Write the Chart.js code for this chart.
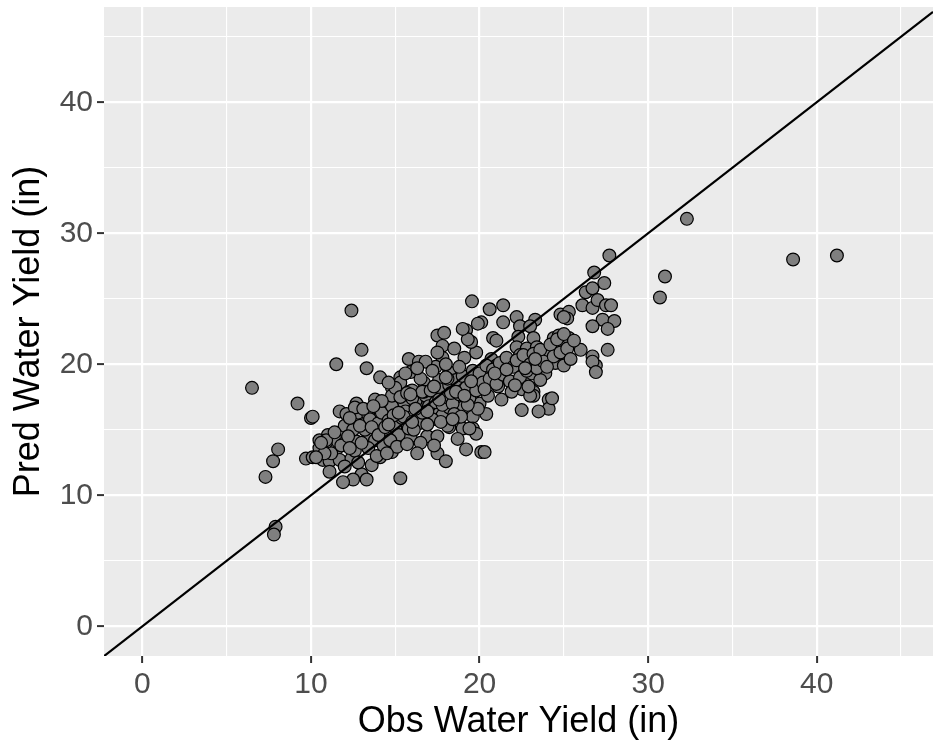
<!DOCTYPE html>
<html>
<head>
<meta charset="utf-8">
<title>Obs vs Pred Water Yield</title>
<script src="https://cdn.jsdelivr.net/npm/chart.js@4.4.1/dist/chart.umd.min.js"></script>
<style>
    html, body { margin: 0; padding: 0; background: #ffffff; }
    #wrap { width: 933px; height: 744px; position: relative; }
</style>
</head>
<body>
<div id="wrap"><canvas id="yield-chart"></canvas></div>
<script>
const obsYield = [
    6.5, 7.3, 7.75, 7.9, 7.8, 8.05, 9.2, 9.7, 10.0, 12.4,
    11.5, 13.0, 15.3, 19.55, 30.7, 31.0, 32.3, 38.6, 41.2, 27.7,
    26.8, 27.4, 26.3, 26.7, 26.1, 26.7, 27.0, 27.5, 27.8, 27.3,
    28.0, 26.7, 27.6, 27.6, 26.7, 26.9, 20.6, 21.4, 20.1, 21.4,
    22.2, 22.4, 23.3, 23.0, 24.8, 25.3, 25.2, 20.8, 21.0, 19.8,
    22.3, 23.2, 24.4, 24.7, 25.3, 26.0, 22.2, 22.8, 23.4, 23.9,
    24.6, 24.7, 21.5, 22.4, 21.8, 20.7, 21.0, 24.5, 26.7, 26.9,
    25.0, 21.0, 20.1, 21.2, 22.6, 23.1, 23.9, 23.6, 20.0, 21.1,
    22.5, 23.2, 23.2, 24.1, 24.1, 23.5, 22.5, 20.0, 20.4, 19.6,
    19.6, 19.8, 20.1, 20.3, 17.5, 18.0, 13.6, 13.0, 13.3, 12.5,
    14.8, 14.1, 12.7, 13.5, 14.9, 16.9, 17.5, 15.9, 18.2, 19.0,
    19.4, 12.8, 13.4, 14.1, 16.6, 17.2, 17.8, 18.1, 14.5, 15.0,
    15.5, 16.3, 18.2, 19.0, 19.9, 17.5, 17.9, 19.2, 19.9, 17.8,
    19.5, 13.3, 17.8, 19.1, 15.8, 16.4, 17.4, 14.1, 15.3, 15.9,
    16.7, 17.6, 18.2, 19.1, 14.8, 15.8, 12.7, 13.8, 10.1, 11.7,
    12.1, 12.6, 11.0, 10.5, 10.1, 10.7, 10.5, 11.1, 11.5, 11.1,
    11.9, 11.7, 12.4, 12.0, 12.5, 11.6, 12.0, 10.9, 13.2, 13.5,
    13.8, 14.0, 14.2, 14.4, 14.6, 14.8, 15.0, 15.2, 13.4, 13.9,
    14.3, 14.7, 15.1, 15.4, 15.6, 15.8, 16.0, 16.2, 16.4, 16.6,
    16.8, 17.0, 17.2, 17.4, 17.6, 17.8, 18.0, 18.2, 18.4, 18.6,
    18.8, 19.0, 19.2, 19.4, 19.6, 19.8, 20.0, 20.2, 20.4, 20.6,
    20.8, 21.0, 21.2, 21.4, 21.6, 21.8, 22.0, 22.2, 22.4, 22.6,
    22.8, 23.0, 23.2, 23.4, 23.6, 23.8, 24.0, 24.2, 24.4, 24.6,
    24.8, 25.0, 25.2, 25.4, 25.6, 25.0, 23.0, 24.3, 11.2, 11.8,
    12.2, 12.6, 12.9, 13.1, 12.3, 11.4, 10.8, 10.3, 10.6, 12.0,
    12.8, 15.3, 15.6, 16.0, 16.5, 16.8, 17.2, 17.5, 18.0, 18.5,
    18.8, 19.3, 19.0, 16.3, 14.8, 15.0, 14.2, 14.6, 15.5, 16.1,
    16.9, 17.7, 18.5, 18.9, 19.3, 20.5, 21.3, 21.9, 22.9, 13.6,
    14.5, 15.7, 16.5, 16.3, 16.7, 18.3, 18.7, 19.2, 17.3, 16.0,
    13.7, 14.0, 14.4, 14.9, 15.3, 15.7, 16.2, 16.6, 17.1, 17.6,
    18.1, 18.6, 19.1, 19.5, 20.3, 20.9, 21.6, 22.1, 22.7, 23.3,
    15.2, 16.0, 16.9, 17.3, 18.0, 18.4, 13.0, 12.3, 14.6, 15.9
];
const predYield = [
    18.2, 11.4, 12.6, 7.6, 7.0, 13.5, 17.0, 12.8, 15.9, 24.1,
    20.0, 21.1, 11.3, 24.8, 25.1, 26.7, 31.1, 28.0, 28.3, 28.3,
    27.0, 26.2, 25.5, 25.8, 24.5, 24.3, 24.9, 24.5, 24.5, 23.4,
    23.3, 22.9, 22.7, 21.1, 20.6, 19.9, 24.2, 24.5, 23.2, 23.2,
    23.6, 22.9, 23.4, 22.9, 23.8, 24.0, 23.5, 22.0, 21.8, 20.9,
    22.1, 22.0, 22.0, 22.2, 22.0, 21.1, 21.3, 21.2, 21.3, 20.9,
    21.1, 20.3, 20.3, 20.7, 19.9, 20.4, 19.9, 20.1, 20.2, 19.4,
    19.9, 19.8, 19.0, 19.0, 18.9, 19.3, 19.3, 18.8, 18.3, 18.3,
    18.1, 17.9, 17.6, 17.3, 16.6, 16.4, 16.5, 17.0, 16.2, 16.0,
    15.1, 14.7, 13.3, 13.3, 13.2, 12.6, 12.3, 11.6, 11.2, 11.2,
    13.3, 12.9, 14.1, 14.5, 14.5, 14.5, 14.5, 14.5, 15.2, 15.1,
    15.1, 16.3, 16.1, 14.8, 16.7, 16.6, 16.1, 15.3, 16.6, 16.9,
    17.1, 16.9, 16.7, 16.7, 16.6, 22.2, 22.4, 22.6, 23.1, 21.4,
    21.7, 19.7, 20.5, 20.5, 20.4, 20.2, 19.8, 19.0, 19.0, 19.4,
    18.6, 18.8, 19.4, 18.2, 18.2, 17.9, 17.0, 17.3, 16.0, 16.4,
    16.2, 16.7, 14.6, 14.2, 12.9, 12.7, 13.6, 12.6, 13.5, 11.8,
    11.0, 12.7, 12.8, 15.3, 15.0, 14.1, 14.0, 14.2, 15.0, 15.8,
    14.2, 15.5, 16.3, 14.9, 15.7, 16.8, 15.2, 14.6, 13.6, 13.0,
    13.8, 14.2, 13.7, 15.9, 16.4, 15.1, 16.0, 17.2, 15.5, 16.3,
    17.6, 16.8, 15.8, 17.1, 18.1, 16.9, 17.5, 18.4, 17.0, 18.8,
    17.7, 19.1, 18.2, 17.4, 19.5, 18.0, 19.3, 18.6, 19.9, 18.9,
    19.6, 18.5, 20.1, 19.2, 20.5, 18.7, 19.8, 20.3, 19.0, 20.7,
    19.5, 20.0, 20.8, 19.7, 21.1, 20.2, 19.8, 21.5, 20.6, 21.9,
    20.9, 22.3, 21.2, 20.4, 21.8, 23.6, 17.6, 17.4, 13.2, 13.8,
    14.5, 13.4, 15.3, 16.6, 15.9, 14.8, 13.2, 12.9, 14.0, 12.2,
    12.5, 18.6, 19.3, 18.0, 18.9, 20.2, 19.5, 20.9, 20.0, 21.2,
    19.8, 21.9, 22.7, 19.7, 17.6, 18.2, 17.2, 18.6, 16.0, 15.0,
    15.4, 15.6, 16.2, 16.0, 16.9, 17.6, 17.3, 17.9, 18.3, 15.2,
    13.2, 13.9, 14.0, 13.2, 17.9, 17.8, 14.3, 13.5, 13.8, 17.4,
    16.8, 14.6, 15.2, 16.1, 17.5, 17.8, 16.6, 17.9, 18.0, 17.3,
    18.9, 17.9, 17.6, 18.7, 18.1, 19.3, 19.6, 18.4, 19.7, 20.4,
    16.3, 15.6, 16.4, 18.3, 19.0, 15.8, 14.0, 13.6, 15.4, 17.7
];

// axis limits and breaks (ggplot style, minor breaks at the halves)
const xLimits = [-2.28, 46.9];
const yLimits = [-2.27, 47.27];
const breaks = [0, 5, 10, 15, 20, 25, 30, 35, 40, 45];

// 1:1 reference line spans the x range
const oneToOne = xLimits.map(v => ({ x: v, y: v }));
const points = obsYield.map((v, i) => ({ x: v, y: predYield[i] }));

const panelBg = {
    id: 'panelBg',
    beforeDraw(chart) {
        const { ctx, chartArea: a } = chart;
        ctx.save();
        ctx.fillStyle = '#EBEBEB';
        ctx.fillRect(a.left, a.top, a.right - a.left, a.bottom - a.top);
        ctx.restore();
    }
};

const isMajor = c => c.tick && c.tick.value % 10 === 0;

function axisOpts(limits, titleText, fitFn, titlePad) {
    return {
        type: 'linear',
        min: limits[0],
        max: limits[1],
        afterBuildTicks: s => { s.ticks = breaks.map(v => ({ value: v })); },
        afterFit: s => {
            // no extra room for half tick labels at the panel ends
            s.paddingTop = 0; s.paddingBottom = 0;
            s.paddingLeft = 0; s.paddingRight = 0;
            fitFn(s);
        },
        border: { display: false },
        grid: {
            color: '#FFFFFF',
            lineWidth: c => isMajor(c) ? 2.2 : 1.1,
            drawTicks: true,
            tickLength: 7,
            tickWidth: 2,
            tickColor: c => isMajor(c) ? '#333333' : 'rgba(0,0,0,0)'
        },
        ticks: {
            color: '#4D4D4D',
            font: { family: 'Liberation Sans, Arial, sans-serif', size: 30 },
            padding: 4,
            maxRotation: 0,
            autoSkip: false,
            callback: v => v % 10 === 0 ? String(v) : ''
        },
        title: {
            display: true,
            text: titleText,
            color: '#000000',
            font: { family: 'Liberation Sans, Arial, sans-serif', size: 36 },
            padding: titlePad
        }
    };
}

new Chart(document.getElementById('yield-chart'), {
    data: {
        datasets: [{
            type: 'line',
            data: oneToOne,
            borderColor: '#000000',
            borderWidth: 2.2,
            pointRadius: 0,
            fill: false
        }, {
            type: 'scatter',
            data: points,
            pointRadius: 6.4,
            pointBackgroundColor: '#7F7F7F',
            pointBorderColor: '#000000',
            pointBorderWidth: 1.2
        }]
    },
    options: {
        responsive: true,
        maintainAspectRatio: false,
        animation: false,
        events: [],
        layout: { autoPadding: false, padding: { top: 7, right: 0, bottom: 0, left: 0 } },
        plugins: {
            legend: { display: false },
            tooltip: { enabled: false }
        },
        scales: {
            x: axisOpts(xLimits, 'Obs Water Yield (in)', s => { s.height = 88; }, { top: 0, bottom: 0 }),
            y: axisOpts(yLimits, 'Pred Water Yield (in)', s => { s.width = 104; }, { top: 7, bottom: 0 })
        }
    },
    plugins: [panelBg]
});
</script>
</body>
</html>
